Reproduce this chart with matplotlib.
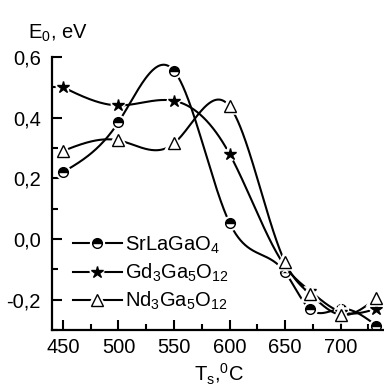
import numpy as np
import matplotlib
matplotlib.use("Agg")
import matplotlib.pyplot as plt
from matplotlib.lines import Line2D
from matplotlib.legend_handler import HandlerBase
from matplotlib.ticker import MultipleLocator, FuncFormatter

plt.rcParams["font.family"] = "Liberation Sans"
plt.rcParams["mathtext.fontset"] = "custom"
plt.rcParams["mathtext.rm"] = "Liberation Sans"
plt.rcParams["mathtext.it"] = "Liberation Sans"
plt.rcParams["mathtext.default"] = "regular"

# data
t_sr = [450, 500, 550, 600, 650, 672, 700, 732]
e_sr = [0.22, 0.385, 0.554, 0.053, -0.11, -0.23, -0.23, -0.285]

t_gd = [450, 500, 550, 600, 650, 672, 700, 732]
e_gd = [0.50, 0.44, 0.455, 0.28, -0.09, -0.17, -0.24, -0.23]

t_nd = [450, 500, 550, 600, 650, 672, 700, 732]
e_nd = [0.29, 0.325, 0.315, 0.437, -0.077, -0.18, -0.25, -0.195]

labels = ["SrLaGaO$_4$", "Gd$_3$Ga$_5$O$_{12}$", "Nd$_3$Ga$_5$O$_{12}$"]


def natural_spline(x, y, n=400):
    """Natural cubic spline through the points, evaluated on a fine grid."""
    x = np.asarray(x, float)
    y = np.asarray(y, float)
    k = len(x)
    h = np.diff(x)
    A = np.zeros((k, k))
    b = np.zeros(k)
    A[0, 0] = A[-1, -1] = 1
    for i in range(1, k - 1):
        A[i, i - 1] = h[i - 1]
        A[i, i] = 2 * (h[i - 1] + h[i])
        A[i, i + 1] = h[i]
        b[i] = 6 * ((y[i + 1] - y[i]) / h[i] - (y[i] - y[i - 1]) / h[i - 1])
    m = np.linalg.solve(A, b)
    xs = np.linspace(x[0], x[-1], n)
    idx = np.clip(np.searchsorted(x, xs) - 1, 0, k - 2)
    x0, x1 = x[idx], x[idx + 1]
    hh = x1 - x0
    a = (x1 - xs) / hh
    c = (xs - x0) / hh
    ys = (a * y[idx] + c * y[idx + 1]
          + ((a ** 3 - a) * m[idx] + (c ** 3 - c) * m[idx + 1]) * hh ** 2 / 6)
    return xs, ys


fig = plt.figure(figsize=(3.84, 3.92), dpi=100)
ax = fig.add_axes([0.135, 0.158, 0.865, 0.697])

styles = [
    dict(marker="o", fillstyle="top", markerfacecolor="black",
         markerfacecoloralt="white", markersize=7),
    dict(marker="*", markerfacecolor="black", markersize=9),
    dict(marker="^", markerfacecolor="white", markersize=8),
]

for (t, e), st in zip([(t_sr, e_sr), (t_gd, e_gd), (t_nd, e_nd)], styles):
    xs, ys = natural_spline(t, e)
    ax.plot(xs, ys, color="black", lw=1.5)
    # white halo first so the curve breaks around each marker
    ax.plot(t, e, ls="none", marker=st["marker"], markersize=st["markersize"],
            color="white", markeredgecolor="white", markeredgewidth=4)
    ax.plot(t, e, ls="none", color="black", markeredgecolor="black",
            markeredgewidth=1.0, **st)

ax.set_xlim(440, 739)
ax.set_ylim(-0.3, 0.6)
ax.spines["top"].set_visible(False)
ax.spines["right"].set_visible(False)
for s in ("left", "bottom"):
    ax.spines[s].set_linewidth(1.6)

ax.xaxis.set_major_locator(MultipleLocator(50))
ax.xaxis.set_minor_locator(MultipleLocator(25))
ax.yaxis.set_major_locator(MultipleLocator(0.2))
ax.yaxis.set_minor_locator(MultipleLocator(0.1))
ax.yaxis.set_major_formatter(FuncFormatter(lambda v, p: f"{v:.1f}".replace(".", ",")))
ax.tick_params(which="both", direction="in", width=1.5, labelsize=14.5)
ax.tick_params(which="major", length=7.5)
ax.tick_params(axis="y", which="major", pad=8)
ax.tick_params(axis="x", which="major", pad=6)
ax.tick_params(which="minor", length=4.5)


class HaloHandler(HandlerBase):
    """Legend entry: line, white gap, marker in the middle."""

    def create_artists(self, legend, orig_handle, xdescent, ydescent,
                       width, height, fontsize, trans):
        y = height / 2 - ydescent
        x0, x1 = -xdescent, width - xdescent
        xm = (x0 + x1) / 2
        line = Line2D([x0, x1], [y, y], color="black", lw=1.5)
        halo = Line2D([xm], [y], ls="none", marker=orig_handle.get_marker(),
                      markersize=orig_handle.get_markersize(), color="white",
                      markeredgecolor="white", markeredgewidth=4)
        mk = Line2D([xm], [y], ls="none")
        mk.update_from(orig_handle)
        mk.set_linestyle("none")
        for a in (line, halo, mk):
            a.set_transform(trans)
        return [line, halo, mk]


handles = [Line2D([], [], color="black", lw=1.5, markeredgecolor="black",
                  markeredgewidth=1.0, **st) for st in styles]
ax.legend(handles, labels, loc="upper left", bbox_to_anchor=(0.04, 0.38),
          frameon=False, fontsize=14.5, handlelength=2.4, handletextpad=0.15,
          labelspacing=0.3, borderaxespad=0,
          handler_map={Line2D: HaloHandler()})

fig.text(0.072, 0.915, "E$_0$, eV", fontsize=14.5, va="center")
fig.text(0.57, 0.045, "T$_s$,$^0$C", fontsize=14.5, ha="center", va="center")

fig.savefig("out.png", dpi=100)
